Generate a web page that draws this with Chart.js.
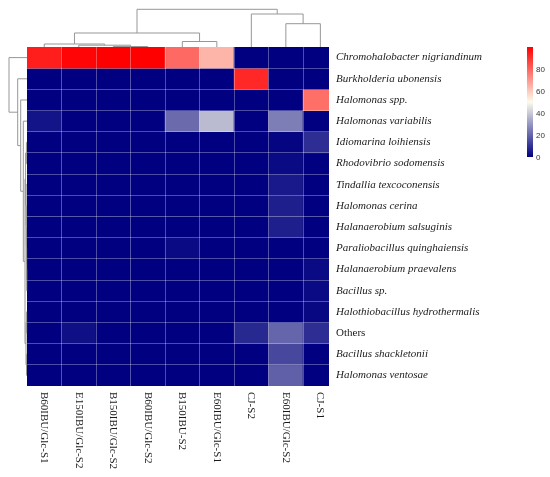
<!DOCTYPE html>
<html>
<head>
<meta charset="utf-8">
<script src="https://cdn.jsdelivr.net/npm/chart.js@4.4.1/dist/chart.umd.min.js"></script>
<style>
  html, body { margin: 0; padding: 0; background: #fff; }
  #wrap { width: 550px; height: 477px; }
</style>
</head>
<body>
<div id="wrap"><canvas id="heatmap"></canvas></div>
<script>
const samples = ["B60IBU/Glc-S1", "E150IBU/Glc-S2", "B150IBU/Glc-S2", "B60IBU/Glc-S2", "B150IBU-S2",
  "E60IBU/Glc-S1", "CJ-S2", "E60IBU/Glc-S2", "CJ-S1"];
const species = ["Chromohalobacter nigriandinum", "Burkholderia ubonensis", "Halomonas spp.",
  "Halomonas variabilis", "Idiomarina loihiensis", "Rhodovibrio sodomensis", "Tindallia texcoconensis",
  "Halomonas cerina", "Halanaerobium salsuginis", "Paraliobacillus quinghaiensis",
  "Halanaerobium praevalens", "Bacillus sp.", "Halothiobacillus hydrothermalis", "Others",
  "Bacillus shackletonii", "Halomonas ventosae"];

// relative abundance (%), one row per species, one value per sample
const abundance = [
  [94, 99, 100, 100, 79, 64, 0, 0, 0],
  [0, 0, 0, 0, 0, 0, 92, 0, 0],
  [0, 0, 0, 0, 0, 0, 0, 0, 78],
  [4, 0, 0, 0, 21, 37, 0, 25, 0],
  [0, 0, 0, 0, 0, 0, 0, 1, 9],
  [0, 0, 0, 0, 0, 0, 0, 2, 0],
  [0, 0, 0, 0, 0, 0, 0, 5, 0],
  [0, 0, 0, 0, 0, 0, 0, 6, 0],
  [0, 0, 0, 0, 0, 0, 0, 6, 0],
  [0, 0, 0, 0, 2, 0, 0, 0, 0],
  [0, 0, 0, 0, 0, 0, 0, 0, 2],
  [0, 0, 0, 0, 0, 0, 0, 0, 2],
  [0, 0, 0, 0, 0, 0, 0, 0, 1.5],
  [0, 3, 0, 0, 0, 0, 8, 20, 9],
  [0, 0, 0, 0, 0, 0, 0, 14, 0],
  [0, 0, 0, 0, 0, 0, 0, 19, 0]
];
const colorTicks = [0, 20, 40, 60, 80];
const colorMax = 100;

// clustering trees: [left, right, height], numbers are leaf indices
const sampleTree = [[[0, [1, [2, 3, 0.5], 1.8], 3], [4, 5, 5.5], 14], [6, [7, 8, 23.3], 33], 37.7];
const speciesTree = [0, [1, [2, [3, [
  [[4, 5, 0.6], [6, [7, [8, [9, [10, 11, 0.3], 0.4], 0.5], 0.7], 0.9], 1.4],
  [[12, 13, 0.4], [14, 15, 0.5], 1.0],
  2.0], 3.7], 6.3], 9.3], 18];

function heatColor(v) {
  const t = Math.max(0, Math.min(1, v / colorMax));
  const lo = [0, 0, 128], mid = [252, 252, 236], hi = [255, 0, 0];
  const [a, b, s] = t < 0.5 ? [lo, mid, t * 2] : [mid, hi, (t - 0.5) * 2];
  return 'rgb(' + a.map((c, i) => Math.round(c + (b[i] - c) * s)).join(',') + ')';
}

const gridColor = 'rgba(255,255,255,0.3)';
const serif = '"Liberation Serif", "Times New Roman", serif';

// walk a tree, draw the elbows, return leaf-axis position and height pixel
function walkTree(node, leafPos, heightPix, seg) {
  if (typeof node === 'number') return { p: leafPos(node), d: heightPix(0) };
  const a = walkTree(node[0], leafPos, heightPix, seg);
  const b = walkTree(node[1], leafPos, heightPix, seg);
  const d = heightPix(node[2]);
  seg(a.p, a.d, a.p, d);
  seg(b.p, b.d, b.p, d);
  seg(a.p, d, b.p, d);
  return { p: (a.p + b.p) / 2, d: d };
}

const extrasPlugin = {
  id: 'extras',
  afterDraw(chart) {
    const { ctx, chartArea, scales } = chart;
    const x = scales.x, y = scales.y;
    ctx.save();

    // dendrograms
    ctx.strokeStyle = '#979797';
    ctx.lineWidth = 1;
    const line = (x1, y1, x2, y2) => {
      ctx.beginPath(); ctx.moveTo(x1, y1); ctx.lineTo(x2, y2); ctx.stroke();
    };
    const topUnit = (chartArea.top - 9.3) / sampleTree[2];
    walkTree(sampleTree, i => x.getPixelForValue(i + 0.5), h => chartArea.top - h * topUnit, line);
    const leftUnit = (chartArea.left - 9) / speciesTree[2];
    walkTree(speciesTree, i => y.getPixelForValue(i + 0.5), h => chartArea.left - h * leftUnit,
      (p1, d1, p2, d2) => line(d1, p1, d2, p2));

    // sample labels, rotated clockwise
    ctx.fillStyle = '#1a1a1a';
    ctx.font = '11px ' + serif;
    ctx.textAlign = 'left';
    ctx.textBaseline = 'middle';
    samples.forEach((s, i) => {
      ctx.save();
      ctx.translate(x.getPixelForValue(i + 0.5), chartArea.bottom + 6);
      ctx.rotate(Math.PI / 2);
      ctx.fillText(s, 0, 0);
      ctx.restore();
    });

    // colour key
    const cbLeft = 527, cbWidth = 6, cbTop = chartArea.top, cbBottom = chartArea.top + 110;
    const grad = ctx.createLinearGradient(0, cbBottom, 0, cbTop);
    for (let v = 0; v <= colorMax; v += 5) grad.addColorStop(v / colorMax, heatColor(v));
    ctx.fillStyle = grad;
    ctx.fillRect(cbLeft, cbTop, cbWidth, cbBottom - cbTop);
    ctx.fillStyle = '#333';
    ctx.font = '8px "Liberation Sans", Arial, sans-serif';
    colorTicks.forEach(v => {
      ctx.fillText(String(v), cbLeft + cbWidth + 3, cbBottom - v / colorMax * (cbBottom - cbTop) + 1);
    });
    ctx.restore();
  }
};

const datasets = species.map((name, r) => ({
  label: name,
  data: samples.map((s, c) => ({ x: c + 0.5, y: [r, r + 1] })),
  backgroundColor: abundance[r].map(heatColor),
  borderWidth: 0,
  grouped: false,
  barPercentage: 1,
  categoryPercentage: 1,
  clip: 0
}));

new Chart(document.getElementById('heatmap'), {
  type: 'bar',
  data: { datasets: datasets },
  plugins: [extrasPlugin],
  options: {
    responsive: true,
    maintainAspectRatio: false,
    animation: false,
    layout: { padding: { left: 27, top: 47, right: 0, bottom: 0 } },
    plugins: { legend: { display: false }, tooltip: { enabled: false } },
    scales: {
      x: {
        type: 'linear', position: 'bottom', min: 0, max: 8.75, offset: false,
        afterBuildTicks: s => { s.ticks = samples.slice(1).map((_, i) => ({ value: i + 1 })); },
        afterFit: s => { s.height = 91; },
        ticks: { display: false },
        grid: { offset: false, color: gridColor, drawTicks: false, z: 1 },
        border: { display: false }
      },
      y: {
        type: 'linear', position: 'right', min: 0, max: 16, reverse: true,
        afterBuildTicks: s => { s.ticks = species.map((_, i) => ({ value: i + 0.5 })); },
        afterFit: s => { s.width = 221; },
        ticks: {
          padding: 7,
          autoSkip: false,
          color: '#1a1a1a',
          callback: (v, i) => species[i],
          font: c => ({ family: serif, size: 11, style: species[c.index] === 'Others' ? 'normal' : 'italic' })
        },
        grid: { display: false, drawTicks: false },
        border: { display: false }
      },
      yg: {
        type: 'linear', position: 'left', min: 0, max: 16, reverse: true,
        afterBuildTicks: s => { s.ticks = species.slice(1).map((_, i) => ({ value: i + 1 })); },
        afterFit: s => { s.width = 0; },
        ticks: { display: false },
        grid: { color: gridColor, drawTicks: false, z: 1 },
        border: { display: false }
      }
    }
  }
});
</script>
</body>
</html>
